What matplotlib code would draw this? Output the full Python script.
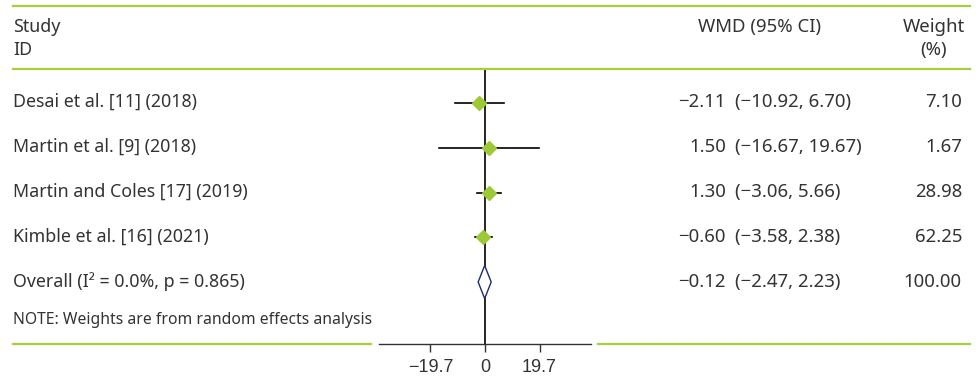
import matplotlib
matplotlib.use("Agg")
import matplotlib.pyplot as plt
from matplotlib.lines import Line2D
import numpy as np

# ---- data ----
studies = ["Desai et al. [11] (2018)", "Martin et al. [9] (2018)",
           "Martin and Coles [17] (2019)", "Kimble et al. [16] (2021)"]
est = [-2.11, 1.50, 1.30, -0.60]
lo = [-10.92, -16.67, -3.06, -3.58]
hi = [6.70, 19.67, 5.66, 2.38]
weights = [7.10, 1.67, 28.98, 62.25]
overall_label = "Overall (I² = 0.0%, p = 0.865)"
overall_est, overall_lo, overall_hi, overall_w = -0.12, -2.47, 2.23, 100.00
note = "NOTE: Weights are from random effects analysis"
xticks = [-19.7, 0, 19.7]
xticklabels = ["−19.7", "0", "19.7"]

GREEN = "#a6cf3c"
MARK = "#9dc936"
NAVY = "#1f2a6b"
TXT = "#333333"
FONT = "Noto Sans"
FS_L = 12.8
FS_R = 13.4
FS_NOTE = 11.3

W, H = 980, 378
fig = plt.figure(figsize=(W / 100, H / 100), dpi=100)

def fx(px):
    return px / W

def fy(py):
    return 1 - py / H

# forest axes: x pixels 379..591, y pixels 69..344
ax = fig.add_axes([fx(379), fy(344), fx(591) - fx(379), fy(69) - fy(344)])
n = len(studies)
rows = list(range(n + 1, 1, -1))  # 5,4,3,2 for studies; overall at 1
ax.set_xlim(-38.3, 38.3)
ax.set_ylim(-0.385, 5.76)

for y, e, l, h in zip(rows, est, lo, hi):
    ax.plot([l, h], [y, y], color="black", lw=1.2, zorder=2)
    ax.plot([e], [y], marker="D", ms=7, color=MARK, mec=MARK, zorder=3)

ax.axvline(0, color="black", lw=1.2, zorder=1)
dh = 0.37
ax.fill([overall_lo, overall_est, overall_hi, overall_est],
        [1, 1 + dh, 1, 1 - dh], facecolor="white", edgecolor=NAVY, lw=1.0, zorder=4)

for s in ["top", "left", "right"]:
    ax.spines[s].set_visible(False)
ax.spines["bottom"].set_color("#333333")
ax.spines["bottom"].set_linewidth(1.0)
ax.set_yticks([])
ax.set_xticks(xticks)
ax.set_xticklabels(xticklabels, fontsize=13, family="Liberation Sans", color=TXT)
ax.tick_params(axis="x", direction="out", length=6, width=1, color="#333333", pad=5)
ax.patch.set_alpha(0)

# green rules
def hline(y, x0, x1):
    fig.add_artist(Line2D([fx(x0), fx(x1)], [fy(y), fy(y)], color=GREEN, lw=1.6))

hline(6, 13, 970)
hline(69, 13, 970)
hline(344, 13, 371)
hline(344, 598, 970)

def t(x, y, s, ha="left", size=FS_L):
    fig.text(fx(x), fy(y), s, ha=ha, va="center", fontsize=size, family=FONT, color=TXT)

# header
t(13, 27, "Study")
t(13, 50, "ID")
t(760, 27, "WMD (95% CI)", ha="center", size=FS_R)
t(934, 27, "Weight", ha="center", size=FS_R)
t(934, 50, "(%)", ha="center", size=FS_R)

row_px = [102, 147, 192, 237]
for py, s, e, l, h, w in zip(row_px, studies, est, lo, hi, weights):
    t(13, py, s)
    t(726, py, f"{e:.2f}".replace("-", "−"), ha="right", size=FS_R)
    t(735, py, f"({l:.2f}, {h:.2f})".replace("-", "−"), size=FS_R)
    t(962, py, f"{w:.2f}", ha="right", size=FS_R)

t(13, 282, overall_label)
t(726, 282, f"{overall_est:.2f}".replace("-", "−"), ha="right", size=FS_R)
t(735, 282, f"({overall_lo:.2f}, {overall_hi:.2f})".replace("-", "−"), size=FS_R)
t(962, 282, f"{overall_w:.2f}", ha="right", size=FS_R)
t(13, 320, note, size=FS_NOTE)

fig.savefig("out.png", dpi=100)
